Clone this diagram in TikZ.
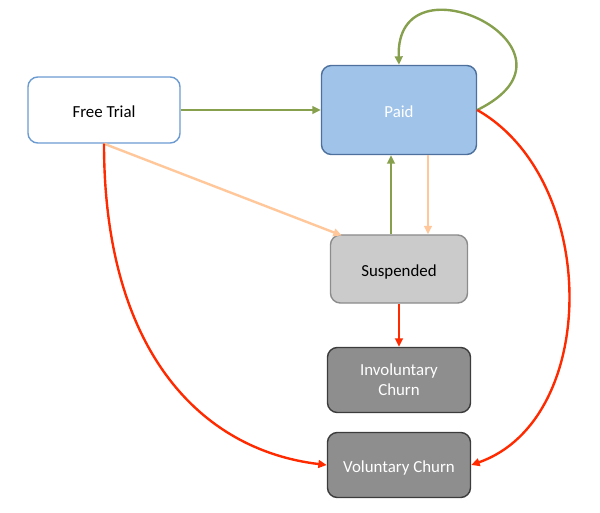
\documentclass[tikz,border=0pt]{standalone}
\usepackage{fontspec}
\setmainfont{Carlito}
\usetikzlibrary{arrows.meta}

\definecolor{trialline}{HTML}{6C9BD2}
\definecolor{paidfill}{HTML}{A0C3EA}
\definecolor{paidline}{HTML}{4D719C}
\definecolor{suspfill}{HTML}{CBCBCB}
\definecolor{suspline}{HTML}{8C8C8C}
\definecolor{churnfill}{HTML}{8E8E8E}
\definecolor{churnline}{HTML}{3C3C3C}
\definecolor{upgreen}{HTML}{86A04E}
\definecolor{softorange}{HTML}{FFC79A}
\definecolor{lossred}{HTML}{FF2A00}

\tikzset{
  state/.style={rectangle,rounded corners=7pt,draw,line width=1pt,inner sep=0pt,
    font=\fontsize{12}{14}\selectfont,align=center},
  oneline/.style={text height=0.45cm,text depth=0.1cm},
  link/.style={line width=1.7pt,-{Triangle[length=6pt,width=5.5pt]}},
}

\begin{document}
\begin{tikzpicture}[x=0.025cm,y=-0.025cm]
  \useasboundingbox (0,0) rectangle (600,513);

  \node[state,oneline,draw=trialline,fill=white,minimum width=3.8cm,minimum height=1.65cm] (1) at (104,110) {Free Trial};
  \node[state,oneline,draw=paidline,fill=paidfill,text=white,minimum width=3.875cm,minimum height=2.225cm] (2) at (399,110) {Paid};
  \node[state,oneline,draw=suspline,fill=suspfill,minimum width=3.425cm,minimum height=1.7cm] (3) at (399,269) {Suspended};
  \node[state,draw=churnline,fill=churnfill,text=white,minimum width=3.575cm,minimum height=1.625cm] (4) at (399,380) {Involuntary\\Churn};
  \node[state,oneline,draw=churnline,fill=churnfill,text=white,minimum width=3.575cm,minimum height=1.625cm] (5) at (399,465) {Voluntary Churn};

  % green: upgrades and renewals
  \draw[link,upgreen] (1.east) to (2.west);
  \draw[link,upgreen] (2.east) .. controls (600,50) and (395,-50) .. (2.north);
  \draw[link,upgreen] ([xshift=-0.2cm]3.north) to ([xshift=-0.2cm]2.south);

  % orange: payment failed
  \draw[link,softorange] (1.south) to ([xshift=0.3cm,yshift=-0.03cm]3.north west);
  \draw[link,softorange] ([xshift=0.725cm]2.south) to ([xshift=0.725cm]3.north);

  % red: churn
  \draw[link,lossred] (3.south) to (4.north);
  \draw[link,lossred] (1.south) .. controls (104,350) and (200,450) .. (5.west);
  \draw[link,lossred] (2.east) .. controls (600,180) and (600,420) .. (5.east);

\end{tikzpicture}
\end{document}
